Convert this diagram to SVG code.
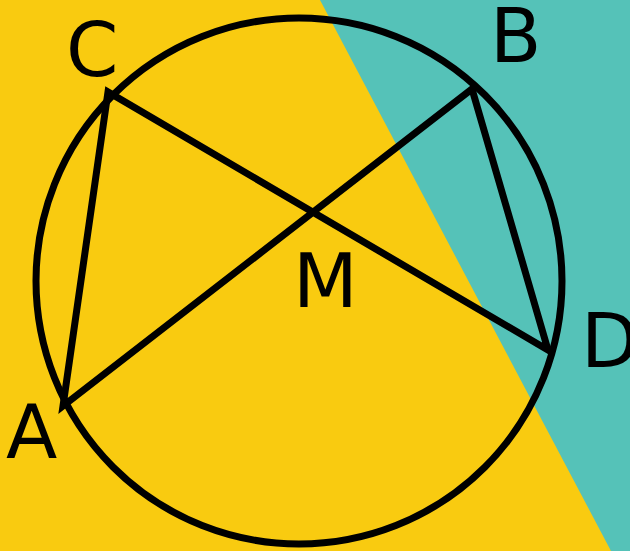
<svg xmlns="http://www.w3.org/2000/svg" width="630" height="551" viewBox="0 0 630 551">
<style>
.lbl{font-family:"DejaVu Sans",sans-serif;font-size:75px;fill:#000}
.stk{fill:none;stroke:#000;stroke-width:7;stroke-linejoin:miter;stroke-miterlimit:10}
</style>
<rect x="0" y="0" width="630" height="551" fill="#F9CB10"/>
<polygon points="320,0 630,0 630,551 611,551" fill="#55C2B8"/>
<g id="circle"><circle cx="299" cy="281" r="263" class="stk"/></g>
<g id="connectors"><path d="M63,406 L108,92 L548,350 L472,89 Z" class="stk"/></g>
<g id="C"><text class="lbl" x="66" y="76">C</text></g>
<g id="B"><text class="lbl" x="490" y="62">B</text></g>
<g id="M"><text class="lbl" x="293" y="307">M</text></g>
<g id="D"><text class="lbl" x="581" y="367">D</text></g>
<g id="A"><text class="lbl" x="6" y="458">A</text></g>
</svg>
